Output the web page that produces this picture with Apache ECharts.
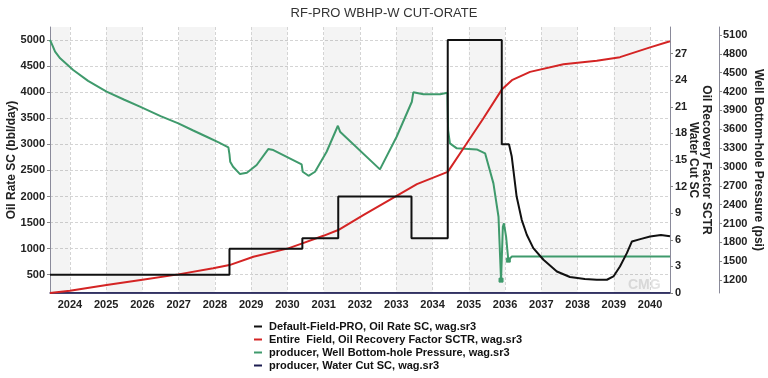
<!DOCTYPE html>
<html>
<head>
<meta charset="utf-8">
<script src="https://cdn.jsdelivr.net/npm/echarts@6/dist/echarts.min.js"></script>
<style>html,body{margin:0;padding:0;background:#fff;}#c{width:768px;height:378px;}</style>
</head>
<body>
<div id="c"></div>
<script>
// ---- data ----
const yearTicks = [2024,2025,2026,2027,2028,2029,2030,2031,2032,2033,2034,2035,2036,2037,2038,2039,2040];
const oilRateTicks = [500,1000,1500,2000,2500,3000,3500,4000,4500,5000];
const rfTicks = [0,3,6,9,12,15,18,21,24,27];
const pressureTicks = [1200,1500,1800,2100,2400,2700,3000,3300,3600,3900,4200,4500,4800,5100];

const oilRateYears  = [2023.45,2028.4,2028.4,2030.41,2030.41,2031.4,2031.4,2033.42,2033.42,2034.42,2034.42,2035.91,2035.91,2036.11,2036.185,2036.23,2036.32,2036.46,2036.6,2036.78,2037.06,2037.43,2037.79,2038.2,2038.53,2038.81,2038.99,2039.17,2039.36,2039.5,2039.73,2040.0,2040.3,2040.55];
const oilRateValues = [500,500,1000,1000,1200,1200,2000,2000,1200,1200,5000,5000,3000,3000,2766,2510,2000,1553,1266,1011,787,563,456,420,404,404,467,659,914,1138,1183,1234,1262,1240];

const rfYears  = [2023.45,2024.0,2025.01,2026.0,2026.99,2027.95,2028.4,2029.06,2030.02,2030.41,2030.99,2031.4,2032.09,2033.01,2033.57,2034.42,2034.85,2035.4,2035.91,2036.19,2036.69,2037.61,2038.53,2039.17,2040.0,2040.55];
const rfValues = [0,0.25,0.9,1.5,2.1,2.78,3.15,4.09,5.03,5.6,6.45,7.1,8.79,10.96,12.28,13.66,16.3,19.68,22.94,24.0,24.94,25.8,26.2,26.6,27.7,28.4];

const bhpYears  = [2023.45,2023.52,2023.59,2023.73,2024.09,2024.5,2025.01,2025.5,2025.93,2026.5,2026.99,2027.4,2027.77,2028.1,2028.37,2028.4,2028.42,2028.5,2028.69,2028.88,2029.15,2029.47,2029.61,2030.39,2030.42,2030.58,2030.76,2031.08,2031.39,2031.45,2032.55,2033.01,2033.43,2033.47,2033.75,2034.21,2034.41,2034.43,2034.48,2034.67,2035.22,2035.45,2035.68,2035.82,2035.89,2035.94,2035.97,2036.03,2036.09,2036.19,2040.55];
const bhpValues = [5020,4930,4834,4729,4543,4370,4198,4070,3959,3810,3694,3580,3481,3390,3312,3200,3083,3004,2887,2908,3031,3285,3269,3042,2924,2860,2924,3242,3656,3561,2962,3481,4038,4188,4156,4156,4182,3588,3376,3296,3280,3217,2739,2208,1200,2049,2102,1889,1518,1575,1575];

const wcYears  = [2023.45,2035.88,2035.91,2035.94,2036.06,2036.09,2036.12,2040.55];
const wcValues = [0,0,0.15,0,0,0.15,0,0];

const legendNames = [
  'Default-Field-PRO, Oil Rate SC, wag.sr3',
  'Entire  Field, Oil Recovery Factor SCTR, wag.sr3',
  'producer, Well Bottom-hole Pressure, wag.sr3',
  'producer, Water Cut SC, wag.sr3'
];

// ---- build ----
const X_MIN = 2023.45, X_MAX = 2040.55;
const zip = (xs, ys) => xs.map((x, i) => [x, ys[i]]);
const bhpData = zip(bhpYears, bhpValues).map(p => {
  if (p[1] === 1200 || p[1] === 1518) return {value: p, symbol: 'rect', symbolSize: 4};
  return p;
});
// split areas/lines follow the tick positions; include the axis start so the first band is drawn
const xTickPositions = [X_MIN].concat(yearTicks);

const font = '"Liberation Sans", Arial, sans-serif';
const bandColor = 'rgba(0,0,0,0.045)';
const gridLine = {show: true, lineStyle: {color: '#d4d4d4', width: 1, type: [3, 2]}};
const lbl = {color: '#222', fontWeight: 'bold', fontSize: 11, fontFamily: font, formatter: v => String(Math.round(v))};
const nameStyle = {fontSize: 12, fontWeight: 'bold', color: '#222', fontFamily: font, lineHeight: 13};

const chart = echarts.init(document.getElementById('c'), null, {renderer: 'canvas'});
chart.setOption({
  animation: false,
  backgroundColor: '#fff',
  title: {
    text: 'RF-PRO WBHP-W CUT-ORATE', left: 'center', top: 2,
    textStyle: {fontSize: 13, fontWeight: 'normal', color: '#333', fontFamily: font}
  },
  grid: {left: 50, right: 98, top: 27, bottom: 85, containLabel: false, outerBoundsMode: 'none'},
  legend: {
    orient: 'vertical', left: 249, top: 315, itemGap: 0, height: 62,
    icon: 'rect', itemWidth: 8, itemHeight: 2,
    textStyle: {fontSize: 11, lineHeight: 13, fontWeight: 'bold', color: '#111', fontFamily: font, padding: [0,0,0,2]},
    data: legendNames
  },
  xAxis: {
    type: 'value', min: X_MIN, max: X_MAX,
    axisLine: {show: true, onZero: false, lineStyle: {color: '#4a4a78', width: 1.5}},
    axisTick: {show: false, customValues: xTickPositions},
    axisLabel: Object.assign({}, lbl, {customValues: yearTicks, margin: 6}),
    splitLine: gridLine,
    splitArea: {show: true, areaStyle: {color: [bandColor, 'rgba(0,0,0,0)']}}
  },
  yAxis: [
    {
      type: 'value', position: 'left', min: 150, max: 5250,
      name: 'Oil Rate SC (bbl/day)', nameLocation: 'middle', nameGap: 32, nameRotate: 90, nameMoveOverlap: false,
      nameTextStyle: nameStyle,
      axisLine: {show: true, lineStyle: {color: '#8a8a9a'}},
      axisTick: {show: true, customValues: oilRateTicks, length: 3, lineStyle: {color: '#888'}},
      axisLabel: Object.assign({}, lbl, {customValues: oilRateTicks, margin: 5}),
      splitLine: gridLine
    },
    {
      type: 'value', position: 'right', min: 0, max: 30,
      name: 'Oil Recovery Factor SCTR\nWater Cut SC', nameLocation: 'middle', nameGap: 17, nameRotate: -90, nameMoveOverlap: false,
      nameTextStyle: nameStyle,
      axisLine: {show: true, lineStyle: {color: '#8a8a9a'}},
      axisTick: {show: true, customValues: rfTicks, length: 3, lineStyle: {color: '#888'}},
      axisLabel: Object.assign({}, lbl, {customValues: rfTicks, margin: 5}),
      splitLine: {show: false}
    },
    {
      type: 'value', position: 'right', offset: 49, min: 995, max: 5227,
      name: 'Well Bottom-hole Pressure (psi)', nameLocation: 'middle', nameGap: 33, nameRotate: -90, nameMoveOverlap: false,
      nameTextStyle: nameStyle,
      axisLine: {show: true, lineStyle: {color: '#8a8a9a'}},
      axisTick: {show: true, customValues: pressureTicks, length: 3, lineStyle: {color: '#888'}},
      axisLabel: Object.assign({}, lbl, {customValues: pressureTicks, margin: 4}),
      splitLine: {show: false}
    }
  ],
  graphic: [
    {type: 'text', left: 628, top: 278, silent: true, style: {text: 'CMG', fill: '#e2e2e2', font: 'bold 14px ' + font}}
  ],
  series: [
    {
      name: legendNames[0], type: 'line', yAxisIndex: 0, showSymbol: false, z: 5,
      data: zip(oilRateYears, oilRateValues),
      lineStyle: {color: '#111', width: 2}, itemStyle: {color: '#111'}
    },
    {
      name: legendNames[1], type: 'line', yAxisIndex: 1, showSymbol: false, z: 4,
      data: zip(rfYears, rfValues),
      lineStyle: {color: '#d42424', width: 2}, itemStyle: {color: '#d42424'}
    },
    {
      name: legendNames[2], type: 'line', yAxisIndex: 2, showSymbol: true, symbol: 'none', z: 3,
      data: bhpData,
      lineStyle: {color: '#3f9a6c', width: 2}, itemStyle: {color: '#3f9a6c', borderColor: '#3f9a6c'}
    },
    {
      name: legendNames[3], type: 'line', yAxisIndex: 1, showSymbol: false, z: 2,
      data: zip(wcYears, wcValues),
      lineStyle: {color: '#1c1c50', width: 1.5}, itemStyle: {color: '#1c1c50'}
    }
  ]
});
</script>
</body>
</html>
